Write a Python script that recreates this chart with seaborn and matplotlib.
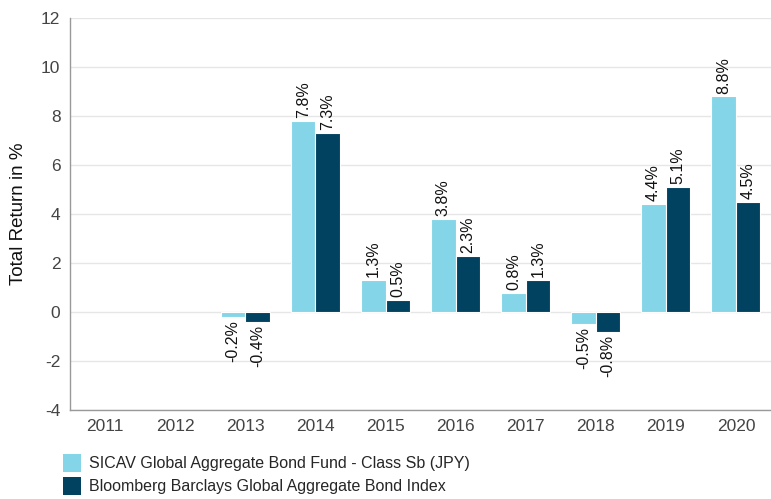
import matplotlib
matplotlib.use("Agg")
import matplotlib.pyplot as plt
import seaborn as sns
import pandas as pd
import numpy as np
from matplotlib.patches import Patch

years = ["2011", "2012", "2013", "2014", "2015", "2016", "2017", "2018", "2019", "2020"]
fund_name = "SICAV Global Aggregate Bond Fund - Class Sb (JPY)"
index_name = "Bloomberg Barclays Global Aggregate Bond Index"
fund_values = [np.nan, np.nan, -0.2, 7.8, 1.3, 3.8, 0.8, -0.5, 4.4, 8.8]
index_values = [np.nan, np.nan, -0.4, 7.3, 0.5, 2.3, 1.3, -0.8, 5.1, 4.5]
y_ticks = [-4, -2, 0, 2, 4, 6, 8, 10, 12]

colors = ["#84d5e7", "#004260"]

df = pd.DataFrame({
    "Year": years * 2,
    "Series": [fund_name] * len(years) + [index_name] * len(years),
    "Value": fund_values + index_values,
})

sns.set_theme(style="white")
plt.rcParams["font.family"] = ["Liberation Sans", "DejaVu Sans"]

fig = plt.figure(figsize=(7.71, 4.99), dpi=100)
ax = fig.add_axes([0.091, 0.178, 0.909, 0.786])

sns.barplot(data=df, x="Year", y="Value", hue="Series", order=years,
            hue_order=[fund_name, index_name], palette=colors, saturation=1,
            width=0.7, edgecolor="white", linewidth=0.8, ax=ax, legend=False)

for cont in ax.containers:
    labels = ["" if np.isnan(v) else f"{v:.1f}%" for v in cont.datavalues]
    ax.bar_label(cont, labels=labels, rotation=90, padding=2, fontsize=11.5, color="#111111")

ax.set_ylim(-4, 12)
ax.set_yticks(y_ticks)
ax.set_yticklabels([str(t) for t in y_ticks])
ax.set_xlim(-0.5, len(years) - 0.5)
ax.yaxis.grid(True, color="#e6e6e6", linewidth=1)
ax.set_axisbelow(True)
ax.tick_params(axis="y", length=0, labelsize=12.5, labelcolor="#444444", pad=7)
ax.tick_params(axis="x", length=0, labelsize=12.5, labelcolor="#444444", pad=6)
ax.set_xlabel("")
ax.set_ylabel("Total Return in %", fontsize=13.5, color="#111111", labelpad=10)
for s in ["top", "right"]:
    ax.spines[s].set_visible(False)
for s in ["left", "bottom"]:
    ax.spines[s].set_color("#999999")
    ax.spines[s].set_linewidth(1)

handles = [Patch(facecolor=colors[0], edgecolor="none"), Patch(facecolor=colors[1], edgecolor="none")]
leg = fig.legend(handles, [fund_name, index_name], loc="lower left", bbox_to_anchor=(0.073, -0.004),
                 frameon=False, fontsize=11.5, handlelength=1.15, handleheight=1.3,
                 handletextpad=0.5, labelspacing=0.35, borderaxespad=0)

fig.savefig("out.png", dpi=100)
